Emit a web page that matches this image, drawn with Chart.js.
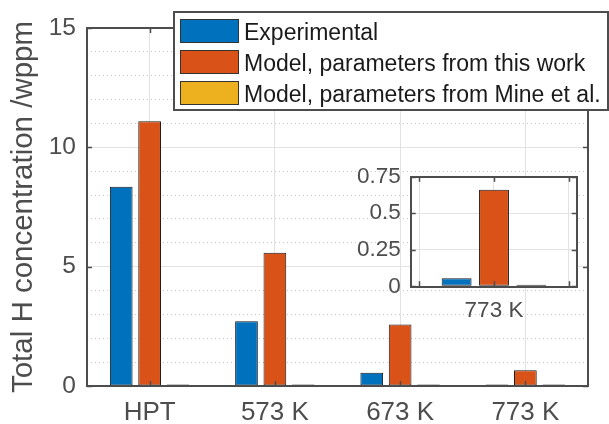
<!DOCTYPE html>
<html>
<head>
<meta charset="utf-8">
<title>Total H concentration</title>
<style>
  body { margin: 0; background: #fff; }
  .wrap { position: relative; width: 609px; height: 424px; }
  .wrap canvas { position: absolute; left: 0; top: 0; }
</style>
</head>
<body>
<div class="wrap">
  <canvas id="mainChart" width="609" height="424"></canvas>
  <canvas id="insetChart" width="609" height="424"></canvas>
</div>
<script src="https://cdn.jsdelivr.net/npm/chart.js@4.4.6/dist/chart.umd.min.js"></script>
<script>
// hydrogen content per condition, wppm
const categories = ["HPT", "573 K", "673 K", "773 K"]
const seriesNames = ["Experimental", "Model, parameters from this work", "Model, parameters from Mine et al."]
const experimental = [8.35, 2.71, 0.55, 0.055]
const modelThisWork = [11.09, 5.58, 2.58, 0.66]
const modelMine = [0.03, 0.02, 0.01, 0.004]
const yTicksMain = [0, 5, 10, 15]
const yTicksInset = [0, 0.25, 0.5, 0.75]
const xTicksInset = [0.5, 1, 1.5]

const COLORS = { blue: "#0072bd", orange: "#d95319", yellow: "#edb120" }
const AXIS = "#4d4d4d"
const GRID = "#e2e2e2"
const FONT = "'Liberation Sans', Arial, Helvetica, sans-serif"

// axes box with inward tick marks on all four sides
const boxAxes = {
  id: "boxAxes",
  beforeDraw(chart, args, opts) {
    if (!opts.fill) return
    const { ctx, chartArea: a } = chart
    ctx.save()
    ctx.fillStyle = "#fff"
    ctx.fillRect(a.left, a.top, a.width, a.height)
    ctx.restore()
  },
  afterDraw(chart, args, opts) {
    const { ctx, chartArea: a, scales: { x, y } } = chart
    const len = 5
    ctx.save()
    ctx.strokeStyle = AXIS
    ctx.lineWidth = 1.5
    ctx.beginPath()
    for (const v of opts.yTicks) {
      const p = Math.round(y.getPixelForValue(v)) + 0.5
      ctx.moveTo(a.left, p); ctx.lineTo(a.left + len, p)
      ctx.moveTo(a.right, p); ctx.lineTo(a.right - len, p)
    }
    x.ticks.forEach((t, i) => {
      const p = Math.round(x.getPixelForTick(i)) + 0.5
      ctx.moveTo(p, a.bottom); ctx.lineTo(p, a.bottom - len)
      ctx.moveTo(p, a.top); ctx.lineTo(p, a.top + len)
    })
    ctx.stroke()
    ctx.lineWidth = 2
    ctx.strokeRect(Math.round(a.left), Math.round(a.top), Math.round(a.width), Math.round(a.height))
    ctx.restore()
  }
}

// boxed legend in the upper right corner
const boxLegend = {
  id: "boxLegend",
  afterDraw(chart) {
    const { ctx } = chart
    const left = 174, top = 12, width = 434, height = 98
    ctx.save()
    ctx.fillStyle = "#fff"
    ctx.fillRect(left, top, width, height)
    ctx.strokeStyle = AXIS
    ctx.lineWidth = 2
    ctx.strokeRect(left, top, width, height)
    ctx.font = "23px " + FONT
    ctx.textBaseline = "alphabetic"
    chart.data.datasets.forEach((ds, i) => {
      const rowTop = 19 + i * 31
      ctx.fillStyle = ds.backgroundColor
      ctx.fillRect(180, rowTop, 58, 23)
      ctx.lineWidth = 1
      ctx.strokeStyle = "#333"
      ctx.strokeRect(180.5, rowTop + 0.5, 58, 23)
      ctx.fillStyle = "#1a1a1a"
      ctx.fillText(ds.label, 244, rowTop + 21)
    })
    ctx.restore()
  }
}

function barSet(label, data, color, catPct) {
  return {
    label: label,
    data: data,
    backgroundColor: color,
    borderColor: "#1a1a1a",
    borderWidth: 1,
    borderSkipped: false,
    minBarLength: 1.5,
    barPercentage: 0.8,
    categoryPercentage: catPct,
  }
}

new Chart(document.getElementById("mainChart"), {
  type: "bar",
  data: {
    labels: categories,
    datasets: [
      barSet(seriesNames[0], experimental, COLORS.blue, 0.68),
      barSet(seriesNames[1], modelThisWork, COLORS.orange, 0.68),
      barSet(seriesNames[2], modelMine, COLORS.yellow, 0.68),
    ],
  },
  options: {
    responsive: false,
    animation: false,
    devicePixelRatio: 1,
    layout: { padding: { left: 0, top: 28, right: 21, bottom: 0 } },
    plugins: {
      legend: { display: false },
      tooltip: { enabled: false },
      boxAxes: { yTicks: yTicksMain, fill: false },
    },
    scales: {
      x: {
        offset: true,
        afterFit: s => { s.height = 38 },
        grid: { offset: false, drawTicks: false, color: GRID },
        border: { display: false },
        ticks: { color: AXIS, padding: 11, font: { family: FONT, size: 26 } },
      },
      y: {
        min: 0,
        max: 15,
        afterFit: s => { s.width = 87 },
        grid: {
          drawTicks: false,
          color: c => (c.tick && c.tick.value % 5 === 0) ? GRID : "#c8c8c8",
        },
        border: {
          display: false,
          dash: c => (c.tick && c.tick.value % 5 !== 0) ? [1, 3] : [],
        },
        ticks: {
          stepSize: 1,
          autoSkip: false,
          color: AXIS,
          padding: 11,
          font: { family: FONT, size: 24.5 },
          callback: v => yTicksMain.includes(v) ? v : "",
        },
        title: {
          display: true,
          text: "Total H concentration /wppm",
          color: AXIS,
          padding: { top: 6, bottom: 0 },
          font: { family: FONT, size: 29.5 },
        },
      },
    },
  },
  plugins: [boxAxes, boxLegend],
})

// inset: zoom on the last condition
const last = categories.length - 1
new Chart(document.getElementById("insetChart"), {
  type: "bar",
  data: {
    datasets: [
      barSet(seriesNames[0], [{ x: 1, y: experimental[last] }], COLORS.blue, 1.5),
      barSet(seriesNames[1], [{ x: 1, y: modelThisWork[last] }], COLORS.orange, 1.5),
      barSet(seriesNames[2], [{ x: 1, y: modelMine[last] }], COLORS.yellow, 1.5),
    ],
  },
  options: {
    responsive: false,
    animation: false,
    devicePixelRatio: 1,
    layout: { padding: { left: 0, top: 176.7, right: 32.3, bottom: 97.7 } },
    plugins: {
      legend: { display: false },
      tooltip: { enabled: false },
      boxAxes: { yTicks: yTicksInset, fill: true },
    },
    scales: {
      x: {
        type: "linear",
        offset: false,
        min: 0.443,
        max: 1.553,
        afterFit: s => { s.height = 40 },
        afterBuildTicks: s => { s.ticks = xTicksInset.map(v => ({ value: v })) },
        grid: { offset: false, drawTicks: false, color: GRID },
        border: { display: false },
        ticks: {
          autoSkip: false,
          maxRotation: 0,
          color: AXIS,
          padding: 11,
          font: { family: FONT, size: 22.5 },
          callback: v => v === 1 ? categories[last] : "",
        },
      },
      y: {
        min: 0,
        max: 0.75,
        afterFit: s => { s.width = 410.7 },
        afterBuildTicks: s => { s.ticks = yTicksInset.map(v => ({ value: v })) },
        grid: { drawTicks: false, color: GRID },
        border: { display: false },
        ticks: {
          autoSkip: false,
          color: AXIS,
          padding: 10,
          font: { family: FONT, size: 22.5 },
          callback: v => String(v),
        },
      },
    },
  },
  plugins: [boxAxes],
})
</script>
</body>
</html>
